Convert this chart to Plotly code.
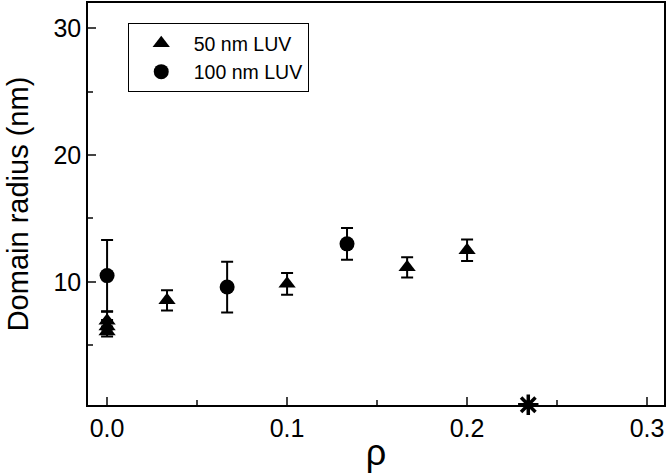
import plotly.graph_objects as go

# 50 nm LUV (triangles)
rho_50 = [0.0, 0.0, 0.0, 0.0333, 0.1, 0.1667, 0.2]
radius_50 = [6.1, 6.5, 6.95, 8.55, 9.85, 11.15, 12.5]
err_50 = [0.4, 0.5, 0.7, 0.8, 0.85, 0.8, 0.85]

# 100 nm LUV (circles)
rho_100 = [0.0, 0.0667, 0.1333]
radius_100 = [10.5, 9.6, 13.0]
err_100 = [2.8, 2.0, 1.25]

# asterisk marker sitting on the axis
star_rho = [0.234]
star_radius = [0.33]

x_ticks = [0.0, 0.1, 0.2, 0.3]
y_ticks = [10, 20, 30]

FONT = "Liberation Sans, Arial, sans-serif"

fig = go.Figure()
fig.add_trace(go.Scatter(
    x=rho_50, y=radius_50,
    mode="markers",
    name="50 nm LUV",
    marker=dict(symbol="triangle-up", size=15, color="black"),
    error_y=dict(type="data", array=err_50, color="black", thickness=2, width=6),
))
fig.add_trace(go.Scatter(
    x=rho_100, y=radius_100,
    mode="markers",
    name="100 nm LUV",
    marker=dict(symbol="circle", size=15, color="black"),
    error_y=dict(type="data", array=err_100, color="black", thickness=2, width=6),
))
fig.add_trace(go.Scatter(
    x=star_rho, y=star_radius,
    mode="markers",
    showlegend=False,
    cliponaxis=False,
    marker=dict(symbol="asterisk-open", size=17, color="black",
                line=dict(color="black", width=3.5)),
))

fig.update_layout(
    width=668, height=473,
    margin=dict(l=88, r=4, t=3, b=68),
    plot_bgcolor="white",
    paper_bgcolor="white",
    font=dict(family=FONT, color="black"),
    legend=dict(
        x=0.069, y=0.95, xanchor="left", yanchor="top",
        bordercolor="black", borderwidth=1,
        font=dict(size=19.5, family=FONT),
        itemwidth=55,
        tracegroupgap=0,
    ),
)
fig.update_xaxes(
    range=[-0.0106, 0.3094],
    tickvals=x_ticks,
    ticktext=[f"{v:.1f}" for v in x_ticks],
    ticks="inside", ticklen=8, tickwidth=1.5,
    minor=dict(ticks="inside", ticklen=5, dtick=0.05, tick0=0, tickwidth=1.5),
    showline=True, linecolor="black", linewidth=1.5, mirror=True,
    showgrid=False, zeroline=False, automargin=False,
    tickfont=dict(size=25),
    title=dict(text="ρ", font=dict(size=36), standoff=4),
)
fig.update_yaxes(
    range=[0.31, 31.97],
    tickvals=y_ticks,
    ticks="inside", ticklen=8, tickwidth=1.5,
    minor=dict(ticks="inside", ticklen=5, tickvals=[5, 15, 25], tickwidth=1.5),
    showline=True, linecolor="black", linewidth=1.5, mirror=True,
    showgrid=False, zeroline=False, automargin=False,
    tickfont=dict(size=25),
    title=dict(text="Domain radius (nm)", font=dict(size=29), standoff=16),
)

# drop the default page margin so the figure sits at the window's corner
fig.write_html(
    "out.html",
    config={"displayModeBar": False},
    post_script="document.body.style.margin='0';",
)
